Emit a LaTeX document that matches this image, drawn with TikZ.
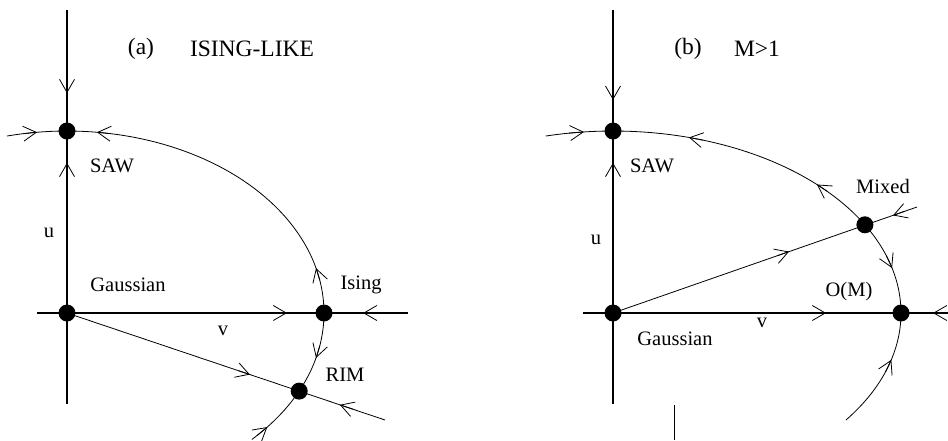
\documentclass[tikz,border=0pt]{standalone}
\usepackage{fontspec}
\setmainfont{Liberation Serif}
\usetikzlibrary{arrows.meta,calc}
\newcommand\ea[6]{\draw[barb] ({#1+#3*cos(#5)},{#2-#4*sin(#5)}) -- ({#1+#3*cos(#6)},{#2-#4*sin(#6)});}
\begin{document}
\begin{tikzpicture}[x=1pt,y=-1pt,
  axis/.style={line width=1.2pt},
  curve/.style={line width=0.8pt},
  barb/.style={line width=0.8pt,-{Straight Barb[length=13pt,width=15pt]}},
  fp/.style={circle,fill=black,inner sep=0pt,minimum size=17pt},
  lbl/.style={font=\fontsize{20.5}{24}\selectfont,inner sep=0pt},
  captxt/.style={font=\fontsize{23.5}{28}\selectfont,inner sep=0pt}]
\useasboundingbox (0,0) rectangle (948,440);

% ---------- panel (a) ----------
\coordinate (aVt) at (67,10);
\coordinate (aVb) at (67,404);
\coordinate (aHl) at (37,313);
\coordinate (aHr) at (408,313);
\coordinate (aDe) at (385,420);
\draw[axis] (aVt) -- (aVb);
\draw[axis] (aHl) -- (aHr);
\draw[curve] plot[domain=103.5:-44,samples=150] ({67+257*cos(\x)},{313-182*sin(\x)});
\node[fp] (aSAW) at (67,131) {};
\node[fp] (aG) at (67,313) {};
\node[fp] (aIs) at (324,313) {};
\node[fp] (aRIM) at (299.2,391.1) {};
\draw[curve] (aG.center) -- (aDe);
% arrows on axes
\draw[barb] ($(aVt)!0.18!(aVb)$) -- ($(aVt)!0.211!(aVb)$);
\draw[barb] ($(aVt)!0.42!(aVb)$) -- ($(aVt)!0.388!(aVb)$);
\draw[barb] ($(aHl)!0.64!(aHr)$) -- ($(aHl)!0.674!(aHr)$);
\draw[barb] ($(aHl)!0.91!(aHr)$) -- ($(aHl)!0.879!(aHr)$);
\draw[barb] ($(aG.center)!0.54!(aDe)$) -- ($(aG.center)!0.575!(aDe)$);
\draw[barb] ($(aG.center)!0.90!(aDe)$) -- ($(aG.center)!0.858!(aDe)$);
% arrows on curve
\ea{67}{313}{257}{182}{99.7}{96.7}
\ea{67}{313}{257}{182}{80.3}{83.3}
\ea{67}{313}{257}{182}{10.3}{14.3}
\ea{67}{313}{257}{182}{-10.3}{-14.3}
\ea{67}{313}{257}{182}{-42.3}{-38.8}
% labels
\node[captxt] (aCapA) at (141,49) {(a)};
\node[captxt] (aCapB) at (252,49) {ISING-LIKE};
\node[lbl] (aLSAW) at (112,166) {SAW};
\node[lbl] (aLu) at (49,233) {u};
\node[lbl] (aLG) at (128,285) {Gaussian};
\node[lbl] (aLv) at (223,331) {v};
\node[lbl] (aLIs) at (361,285) {Ising};
\node[lbl] (aLRIM) at (345,375) {RIM};

% ---------- panel (b) ----------
\coordinate (bVt) at (613,10);
\coordinate (bVb) at (613,404);
\coordinate (bHl) at (583,313);
\coordinate (bHr) at (948,313);
\coordinate (bDe) at (917,207);
\draw[axis] (bVt) -- (bVb);
\draw[axis] (bHl) -- (bHr);
\draw[curve] plot[domain=103.5:-36,samples=150] ({613+288*cos(\x)},{313-182*sin(\x)});
\node[fp] (bSAW) at (613,131) {};
\node[fp] (bG) at (613,313) {};
\node[fp] (bMix) at (864.9,224.8) {};
\node[fp] (bOM) at (901,313) {};
\draw[curve] (bG.center) -- (bDe);
% arrows on axes
\draw[barb] ($(bVt)!0.195!(bVb)$) -- ($(bVt)!0.228!(bVb)$);
\draw[barb] ($(bVt)!0.42!(bVb)$) -- ($(bVt)!0.388!(bVb)$);
\draw[barb] ($(bHl)!0.63!(bHr)$) -- ($(bHl)!0.666!(bHr)$);
\draw[barb] ($(bHl)!0.99!(bHr)$) -- ($(bHl)!0.959!(bHr)$);
\draw[barb] ($(bG.center)!0.54!(bDe)$) -- ($(bG.center)!0.579!(bDe)$);
\draw[barb] ($(bG.center)!0.96!(bDe)$) -- ($(bG.center)!0.921!(bDe)$);
% arrows on curve
\ea{613}{313}{288}{182}{98.8}{95.8}
\ea{613}{313}{288}{182}{71.7}{74.7}
\ea{613}{313}{288}{182}{41.9}{44.9}
\ea{613}{313}{288}{182}{18.3}{14.3}
\ea{613}{313}{288}{182}{-18.9}{-14.9}
% labels
\node[captxt] (bCapA) at (688,49) {(b)};
\node[captxt] (bCapB) at (757,49) {M>1};
\node[lbl] (bLSAW) at (652,166) {SAW};
\node[lbl] (bLMix) at (883,186) {Mixed};
\node[lbl] (bLu) at (596,240) {u};
\node[lbl] (bLOM) at (849,292) {O(M)};
\node[lbl] (bLv) at (762,323) {v};
\node[lbl] (bLG) at (675,339) {Gaussian};
% stray mark
\coordinate (sT) at (674,405);
\coordinate (sB) at (674,440);
\draw[curve] (sT) -- (sB);
\end{tikzpicture}
\end{document}
